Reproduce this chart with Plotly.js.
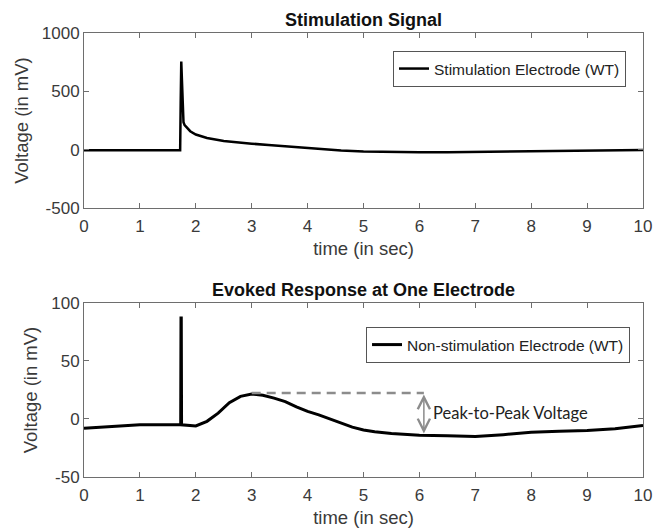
<!DOCTYPE html>
<html>
<head>
<meta charset="utf-8">
<script src="https://cdn.plot.ly/plotly-3.0.1.min.js"></script>
<style>html,body{margin:0;padding:0;background:#fff;}#chart{width:668px;height:528px;}</style>
</head>
<body>
<div id="chart"></div>
<script>
// Stimulation signal (top panel)
const stimTime  = [0, 0.5, 1.0, 1.5, 1.72, 1.73, 1.74, 1.75, 1.76, 1.77, 1.78, 1.80, 1.85, 1.9, 2.0, 2.2, 2.5, 2.8, 3.0, 3.3, 3.6, 4.0, 4.3, 4.6, 5.0, 5.5, 6.0, 6.5, 7.0, 7.5, 8.0, 8.5, 9.0, 9.5, 10];
const stimVolt  = [-5, -5, -4, -5, -5, 420, 755, 620, 420, 290, 235, 210, 180, 158, 130, 100, 74, 58, 51, 40, 28, 11, 3, -7, -15, -21, -23, -22, -20, -17, -15, -12, -9, -5, -2];

// Evoked response (bottom panel)
const respTime  = [0, 0.5, 1.0, 1.5, 1.73, 1.735, 1.74, 1.745, 2.0, 2.2, 2.4, 2.6, 2.8, 3.0, 3.2, 3.4, 3.6, 3.8, 4.0, 4.2, 4.4, 4.6, 4.8, 5.0, 5.2, 5.5, 6.0, 6.5, 7.0, 7.5, 8.0, 8.5, 9.0, 9.5, 10];
const respVolt  = [-8, -6.5, -5, -5, -5, 87, 87, -5, -6, -2, 5, 14, 19.5, 21.5, 20.5, 18, 15, 10.5, 6.5, 3.5, 0, -4, -7, -9.5, -11, -12.5, -14, -14.5, -15, -13.5, -11.5, -10.5, -10, -8.5, -5.5];

// Peak-to-peak marker
const peakTime = 3.0;
const peakVolt = 22.5;
const troughTime = 6.08;
const troughVolt = -12.5;

const titles = ["Stimulation Signal", "Evoked Response at One Electrode"];
const legendNames = ["Stimulation Electrode (WT)", "Non-stimulation Electrode (WT)"];
const xTitle = "time (in sec)";
const yTitle = "Voltage (in mV)";
const xTicks = [0,1,2,3,4,5,6,7,8,9,10];
const yTicksTop = [-500, 0, 500, 1000];
const yTicksBottom = [-50, 0, 50, 100];

const FONT = '"Liberation Sans", Arial, sans-serif';
const axisColor = '#6e6e6e';
const textColor = '#3a3a3a';
const tickFont = {family: FONT, size: 17, color: textColor};
const axTitleFont = {family: FONT, size: 18.5, color: textColor};

function xaxisCfg(anchor) {
  return {
    anchor: anchor, domain: [0, 1], range: [0, 10],
    tickvals: xTicks, ticktext: xTicks.map(String),
    ticks: 'inside', ticklen: 5, tickcolor: axisColor, tickwidth: 1,
    showline: true, linecolor: axisColor, linewidth: 1, mirror: 'ticks',
    showgrid: false, zeroline: false, tickfont: tickFont, ticklabelstandoff: 3,
    title: {text: xTitle, font: axTitleFont, standoff: 6}
  };
}
function yaxisCfg(anchor, dom, rng, ticks) {
  return {
    anchor: anchor, domain: dom, range: rng,
    tickvals: ticks, ticktext: ticks.map(String),
    ticks: 'inside', ticklen: 5, tickcolor: axisColor, tickwidth: 1,
    showline: true, linecolor: axisColor, linewidth: 1, mirror: 'ticks',
    showgrid: false, zeroline: false, tickfont: tickFont,
    title: {text: yTitle, font: axTitleFont, standoff: 8}
  };
}

const traces = [
  {x: stimTime, y: stimVolt, xaxis: 'x', yaxis: 'y', type: 'scatter', mode: 'lines',
   name: legendNames[0], line: {color: '#000', width: 2.5}, legend: 'legend'},
  {x: respTime, y: respVolt, xaxis: 'x2', yaxis: 'y2', type: 'scatter', mode: 'lines',
   name: legendNames[1], line: {color: '#000', width: 3}, legend: 'legend2'},
  {x: [peakTime, troughTime], y: [peakVolt, peakVolt], xaxis: 'x2', yaxis: 'y2', type: 'scatter', mode: 'lines',
   showlegend: false, line: {color: '#8c8c8c', width: 2.5, dash: '9px,6px'}}
];

const legendBase = {
  xref: 'paper', yref: 'paper', xanchor: 'right', yanchor: 'top',
  bgcolor: '#fff', bordercolor: '#555', borderwidth: 1,
  font: {family: FONT, size: 15.5, color: '#222'},
  itemwidth: 30, tracegroupgap: 0
};

const layout = {
  width: 668, height: 528,
  margin: {l: 84, r: 25, t: 33, b: 51},
  paper_bgcolor: '#fff', plot_bgcolor: '#fff',
  showlegend: true,
  xaxis: xaxisCfg('y'),
  yaxis: yaxisCfg('x', [0.6059, 1], [-500, 1000], yTicksTop),
  xaxis2: xaxisCfg('y2'),
  yaxis2: yaxisCfg('x2', [0, 0.3919], [-50, 100], yTicksBottom),
  legend: Object.assign({}, legendBase, {x: 0.9696, y: 0.9595}),
  legend2: Object.assign({}, legendBase, {x: 0.9768, y: 0.3378}),
  annotations: [
    {text: '<b>' + titles[0] + '</b>', xref: 'paper', yref: 'paper', x: 0.5, y: 1.0293,
     xanchor: 'center', yanchor: 'middle', showarrow: false,
     font: {family: FONT, size: 18, color: '#111'}},
    {text: '<b>' + titles[1] + '</b>', xref: 'paper', yref: 'paper', x: 0.5, y: 0.4212,
     xanchor: 'center', yanchor: 'middle', showarrow: false,
     font: {family: FONT, size: 18, color: '#111'}},
    {x: troughTime, y: troughVolt, ax: troughTime, ay: peakVolt, xref: 'x2', yref: 'y2', axref: 'x2', ayref: 'y2',
     showarrow: true, arrowhead: 5, startarrowhead: 5, arrowside: 'end+start', arrowsize: 1.6, arrowwidth: 1.5,
     arrowcolor: '#8c8c8c', text: ''},
    {text: 'Peak-to-Peak Voltage', xref: 'x2', yref: 'y2', x: troughTime + 0.12, y: (peakVolt + troughVolt) / 2,
     xanchor: 'left', yanchor: 'middle', showarrow: false,
     font: {family: 'Lato, "Noto Sans", sans-serif', size: 16.5, color: '#222'}}
  ]
};

Plotly.newPlot('chart', traces, layout, {displayModeBar: false, staticPlot: true});
</script>
</body>
</html>
